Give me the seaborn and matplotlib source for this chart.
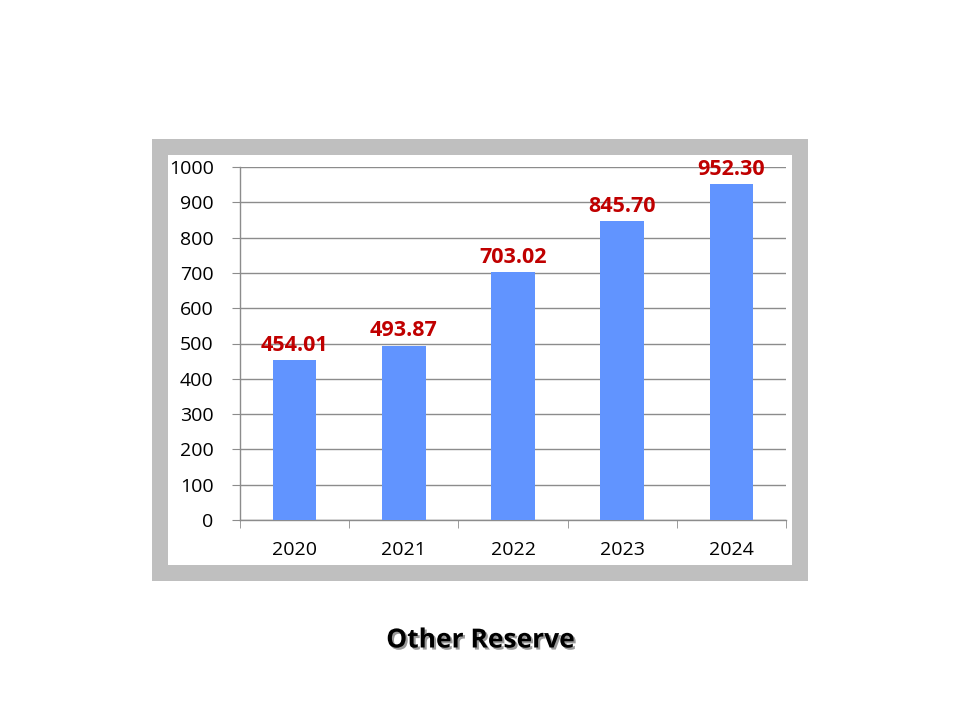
import seaborn as sns
import matplotlib.pyplot as plt
import matplotlib.patheffects as pe
from matplotlib.patches import Rectangle
import numpy as np
import pandas as pd

years = ["2020", "2021", "2022", "2023", "2024"]
values = [454.01, 493.87, 703.02, 845.70, 952.30]
labels = ["454.01", "493.87", "703.02", "845.70", "952.30"]
yticks = [0, 100, 200, 300, 400, 500, 600, 700, 800, 900, 1000]

df = pd.DataFrame({"year": years, "value": values})

sns.set_style("white")
plt.rcParams["font.family"] = ["Open Sans", "DejaVu Sans"]

fig = plt.figure(figsize=(9.6, 7.2), dpi=100)

# gray frame around the plot (kept behind the axes)
fig.patches.append(Rectangle((152 / 960, 1 - 581 / 720), 656 / 960, 442 / 720,
                             transform=fig.transFigure, facecolor="#BFBFBF",
                             edgecolor="none", zorder=-10))
fig.patches.append(Rectangle((168 / 960, 1 - 565 / 720), 624 / 960, 410 / 720,
                             transform=fig.transFigure, facecolor="white",
                             edgecolor="none", zorder=-9))

ax = fig.add_axes([240 / 960, 1 - 520 / 720, 546 / 960, 353 / 720])
ax.set_facecolor("none")

sns.barplot(data=df, x="year", y="value", color="#6194FF", saturation=1,
            width=0.4, linewidth=0, ax=ax, zorder=3)

ax.set_ylim(0, 1000)
ax.set_xlim(-0.5, 4.5)
ax.set_yticks(yticks)
ax.yaxis.grid(True, color="#8C8C8C", linewidth=1)
ax.set_axisbelow(True)
for s in ["top", "right"]:
    ax.spines[s].set_visible(False)
for s in ["left", "bottom"]:
    ax.spines[s].set_color("#8C8C8C")
    ax.spines[s].set_linewidth(1)

ax.tick_params(axis="y", left=True, length=6, color="#8C8C8C", labelsize=14,
               labelcolor="black", pad=13)
ax.tick_params(axis="x", which="major", length=0, labelsize=14,
               labelcolor="black", pad=15)
ax.set_xticks(np.arange(-0.5, 5, 1), minor=True)
ax.tick_params(axis="x", which="minor", bottom=True, length=6, color="#8C8C8C")
ax.set_xlabel("")
ax.set_ylabel("")

for i, (v, t) in enumerate(zip(values, labels)):
    ax.annotate(t, (i, v), xytext=(0, 3), textcoords="offset points",
                ha="center", va="bottom", color="#C00000",
                fontsize=15.5, fontweight="bold")

fig.text(0.5, 1 - 640 / 720, "Other Reserve", ha="center", va="center",
         fontsize=19, fontweight="bold", color="black",
         path_effects=[pe.SimplePatchShadow(offset=(1.5, -1.5), alpha=0.4),
                       pe.Normal()])

fig.savefig("out.png", dpi=100)
